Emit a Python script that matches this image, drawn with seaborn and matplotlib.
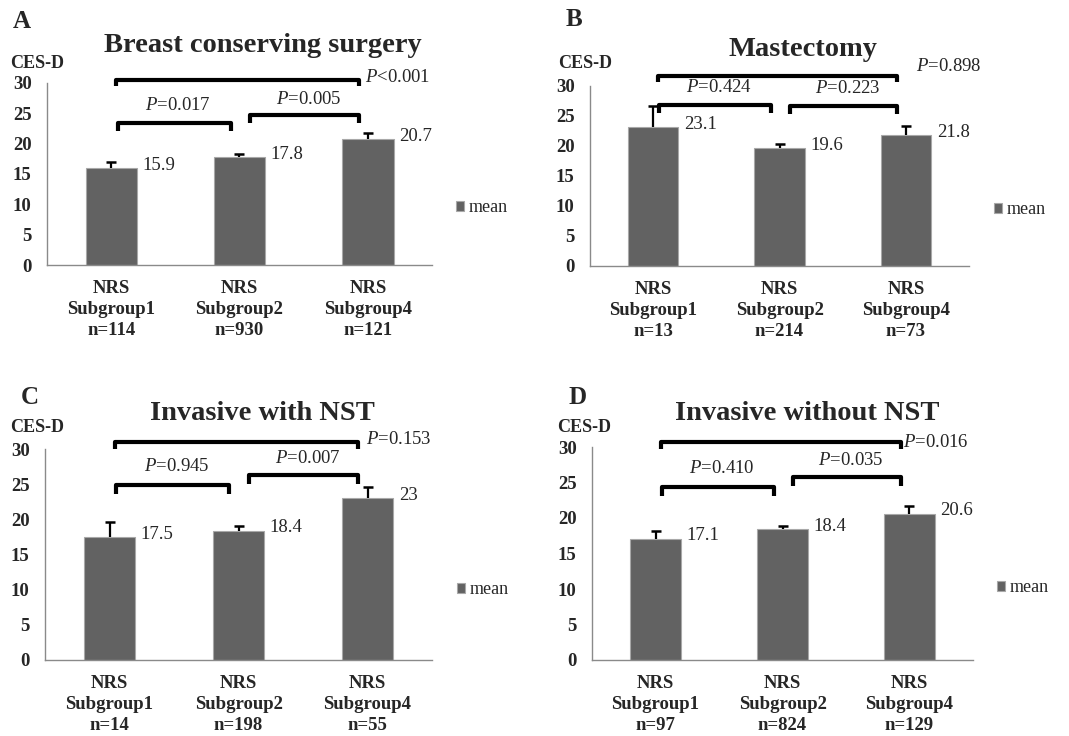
import numpy as np
import pandas as pd
import matplotlib
matplotlib.use("Agg")
import matplotlib.pyplot as plt
import seaborn as sns

# ---------------- data ----------------
groups = ["Subgroup1", "Subgroup2", "Subgroup4"]
titles = ["Breast conserving surgery", "Mastectomy", "Invasive with NST", "Invasive without NST"]
letters = ["A", "B", "C", "D"]

means_A = [15.9, 17.8, 20.7]
means_B = [23.1, 19.6, 21.8]
means_C = [17.5, 18.4, 23.0]
means_D = [17.1, 18.4, 20.6]

err_A = [1.1, 0.5, 1.1]
err_B = [3.6, 0.7, 1.5]
err_C = [2.1, 0.7, 1.6]
err_D = [1.1, 0.45, 1.1]

n_A = [114, 930, 121]
n_B = [13, 214, 73]
n_C = [14, 198, 55]
n_D = [97, 824, 129]

# p-values: (1 vs 2, 2 vs 4, 1 vs 4)
p_A = ["=0.017", "=0.005", "<0.001"]
p_B = ["=0.424", "=0.223", "=0.898"]
p_C = ["=0.945", "=0.007", "=0.153"]
p_D = ["=0.410", "=0.035", "=0.016"]

# bracket heights (1v2, 2v4, 1v4) and p label heights
bh_A = [23.3, 24.7, 30.4]
bh_B = [26.8, 26.7, 31.6]
bh_C = [24.9, 26.3, 31.0]
bh_D = [24.4, 25.8, 30.7]
ph_A = [26.3, 27.3, 30.9]
ph_B = [29.8, 29.6, 33.2]
ph_C = [27.5, 28.7, 31.4]
ph_D = [27.0, 28.1, 30.7]
plong_x = [1.98, 2.08, 1.99, 1.95]

panels = [
    (means_A, err_A, n_A, p_A, bh_A, ph_A),
    (means_B, err_B, n_B, p_B, bh_B, ph_B),
    (means_C, err_C, n_C, p_C, bh_C, ph_C),
    (means_D, err_D, n_D, p_D, bh_D, ph_D),
]

# ---------------- style ----------------
sns.set_style("white")
plt.rcParams["font.family"] = ["Liberation Serif", "DejaVu Serif"]
plt.rcParams["mathtext.fontset"] = "custom"
plt.rcParams["mathtext.it"] = "Liberation Serif:italic"
plt.rcParams["mathtext.rm"] = "Liberation Serif"

W, H = 1069, 736
fig = plt.figure(figsize=(W / 100, H / 100), dpi=100)

# axes boxes in pixels: left, right, top, bottom
boxes = [(47, 432, 82.7, 265), (590, 969, 86, 266), (45, 432, 449, 660), (592, 973, 447, 660)]
title_pos = [(263, 45), (803, 50), (262, 413), (807, 413)]
letter_pos = [(13, 22), (566, 20), (21, 398), (569, 398)]
cesd_pos = [(10, 63), (558, 63), (10, 427), (557, 427)]
legend_pos = [(456, 208), (994, 210), (457, 590), (997, 588)]

bar_color = "#626262"
axis_color = "#8a8a8a"

for k, (means, errs, ns, ps, bh, ph) in enumerate(panels):
    l, r, t, b = boxes[k]
    ax = fig.add_axes([l / W, 1 - b / H, (r - l) / W, (b - t) / H])
    df = pd.DataFrame({"group": groups, "mean": means})
    sns.barplot(data=df, x="group", y="mean", color=bar_color, width=0.4,
                errorbar=None, edgecolor="#a8a8a8", linewidth=0.8,
                saturation=1, label="mean", ax=ax)
    xs = np.arange(len(groups))
    tops = np.array(means) + np.array(errs)
    ax.vlines(xs, means, tops, color="black", lw=1.6, zorder=5)
    ax.scatter(xs, tops, marker="_", s=45, color="black", linewidths=1.8, zorder=5)

    ax.set_xlim(-0.5, 2.5)
    ax.set_ylim(0, 30)
    ax.set_yticks(np.arange(0, 31, 5))
    ax.set_xticks(xs)
    ax.set_xticklabels([f"NRS\n{g}\nn={n}" for g, n in zip(groups, ns)],
                       fontsize=13.5, fontweight="bold", linespacing=1.3)
    ax.set_xticks([-0.5, 0.5, 1.5, 2.5], minor=True)
    ax.tick_params(axis="x", which="major", length=0, pad=11)
    ax.tick_params(axis="x", which="minor", length=5, width=1, color=axis_color, direction="out")
    ax.tick_params(axis="y", length=5, width=1, color=axis_color, direction="out", pad=6,
                   labelsize=13.5)
    for lab in ax.get_yticklabels():
        lab.set_fontweight("bold")
    ax.set_xlabel("")
    ax.set_ylabel("")
    for s in ["top", "right"]:
        ax.spines[s].set_visible(False)
    for s in ["left", "bottom"]:
        ax.spines[s].set_color(axis_color)
        ax.spines[s].set_linewidth(1.0)
    ax.patch.set_alpha(0)

    # value labels
    for i, v in enumerate(means):
        ax.annotate(f"{v:g}", xy=(i + 0.2, v), xytext=(4, 2), textcoords="offset points",
                    ha="left", va="center", fontsize=13.5)

    # brackets
    spans = [(0.05, 0.93), (1.08, 1.93), (0.04, 1.93)]
    drops = [1.3, 1.3, 1.0]
    for (x0, x1), h, d in zip(spans, bh, drops):
        ax.plot([x0, x0, x1, x1], [h - d, h, h, h - d], color="black", lw=3,
                solid_joinstyle="round", solid_capstyle="butt", clip_on=False, zorder=6)
    ax.text(0.52, ph[0], r"$\mathit{P}$" + ps[0], ha="center", va="center", fontsize=13.5, clip_on=False)
    ax.text(1.54, ph[1], r"$\mathit{P}$" + ps[1], ha="center", va="center", fontsize=13.5, clip_on=False)
    ax.text(plong_x[k], ph[2], r"$\mathit{P}$" + ps[2], ha="left", va="center", fontsize=13.5, clip_on=False)

    # legend
    lx, ly = legend_pos[k]
    ax.legend(loc="center left", bbox_to_anchor=(lx / W, 1 - ly / H),
              bbox_transform=fig.transFigure, frameon=False, fontsize=13,
              handlelength=0.45, handleheight=0.45, handletextpad=0.25,
              borderpad=0, borderaxespad=0)

    tx, ty = title_pos[k]
    fig.text(tx / W, 1 - ty / H, titles[k], ha="center", va="center",
             fontsize=20.5, fontweight="bold")
    lx2, ly2 = letter_pos[k]
    fig.text(lx2 / W, 1 - ly2 / H, letters[k], ha="left", va="center",
             fontsize=18, fontweight="bold")
    cx, cy = cesd_pos[k]
    fig.text(cx / W, 1 - cy / H, "CES-D", ha="left", va="center",
             fontsize=13, fontweight="bold")

fig.savefig("out.png", dpi=100, facecolor="white")
